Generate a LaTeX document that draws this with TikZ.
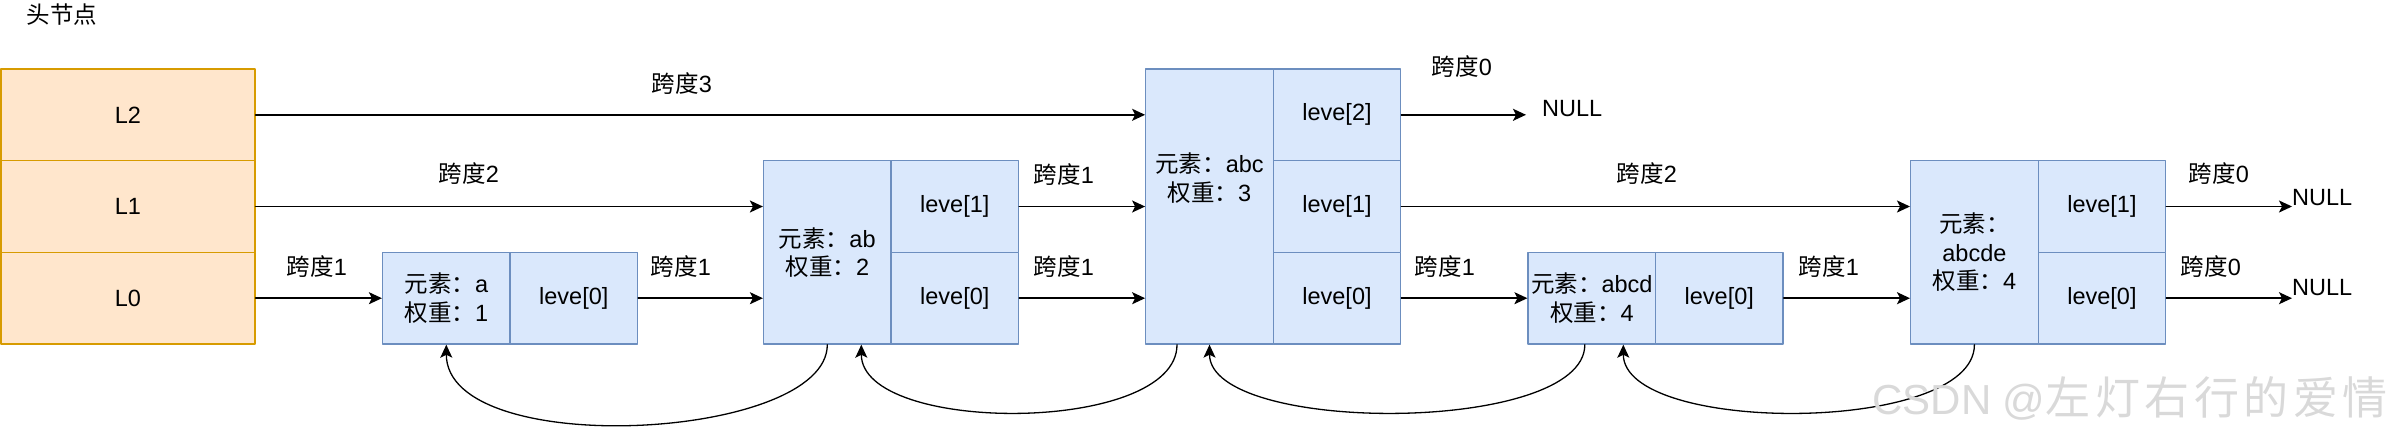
\documentclass[tikz,border=0pt]{standalone}
\usepackage{fontspec}
\setmainfont{Liberation Sans}
\newfontfamily\cjk{Noto Sans CJK SC}
\newfontfamily\cjkmark[LetterSpace=10]{Noto Sans CJK SC}
\usetikzlibrary{arrows.meta}
\newcommand\zh[1]{{\cjk #1}}
\definecolor{headfill}{HTML}{FFE6CC}
\definecolor{headline}{HTML}{D79B00}
\definecolor{nodefill}{HTML}{DAE8FC}
\definecolor{nodeline}{HTML}{6C8EBF}
\begin{document}
\begin{tikzpicture}[x=1pt, y=-1pt, font=\fontsize{23.5}{28.5}\selectfont, line join=round, line cap=round,
	>={Stealth[length=13pt,width=12pt,inset=3pt]},
	headcell/.style={draw=headline, fill=headfill, line width=1.3pt, minimum width=254pt, minimum height=91.7pt, inner sep=0pt},
	elemcell/.style={draw=nodeline, fill=nodefill, line width=1.3pt, minimum width=127.5pt, minimum height=#1, inner sep=0pt, align=center},
	elemcell/.default=91.7pt,
	levcell/.style={draw=nodeline, fill=nodefill, line width=1.3pt, minimum width=127.5pt, minimum height=91.7pt, inner sep=0pt},
	link/.style={->, line width=1.5pt},
	backlink/.style={->, line width=1.3pt},
	spanlabel/.style={inner sep=0pt},
	nulltext/.style={anchor=west, inner sep=0pt}]
	\def\yii{114.8} \def\yi{206.5} \def\yo{298.2} % Tâm các hàng
	\useasboundingbox (0,0) rectangle (2387,437);
	% nút đầu
	\node[spanlabel] (head) at (62,15) {\zh{头节点}};
	\node[headcell] (L2) at (128,\yii) {L2};
	\node[headcell] (L1) at (128,\yi) {L1};
	\node[headcell] (L0) at (128,\yo) {L0};
	% các nút
	\node[elemcell] (ea) at (446.3,\yo) {\zh{元素：}a\\\zh{权重：}1};
	\node[levcell] (a0) at (573.8,\yo) {leve[0]};
	\node[elemcell=183.3pt] (eab) at (827.3,252.4) {\zh{元素：}ab\\\zh{权重：}2};
	\node[levcell] (ab1) at (954.8,\yi) {leve[1]};
	\node[levcell] (ab0) at (954.8,\yo) {leve[0]};
	\node[elemcell=275pt] (eabc) at (1209.5,\yi) {\zh{元素：}abc\\\zh{权重：}3\\[30pt]};
	\node[levcell] (abc2) at (1337,\yii) {leve[2]};
	\node[levcell] (abc1) at (1337,\yi) {leve[1]};
	\node[levcell] (abc0) at (1337,\yo) {leve[0]};
	\node[elemcell] (eabcd) at (1591.8,\yo) {\zh{元素：}abcd\\\zh{权重：}4};
	\node[levcell] (abcd0) at (1719.3,\yo) {leve[0]};
	\node[elemcell=183.3pt] (eabcde) at (1974.4,252.4) {\zh{元素：}\\abcde\\\zh{权重：}4};
	\node[levcell] (abcde1) at (2101.9,\yi) {leve[1]};
	\node[levcell] (abcde0) at (2101.9,\yo) {leve[0]};
	\node[nulltext, inner xsep=16pt] (nulA) at (1526,109) {NULL};
	\node[nulltext] (nulB) at (2292,198) {NULL};
	\node[nulltext] (nulC) at (2292,288) {NULL};
	% con trỏ tiến
	\draw[link] (L2.east) -- (L2.east -| eabc.west);
	\draw[link] (L1.east) -- (L1.east -| eab.west);
	\draw[link] (L0.east) -- (ea.west);
	\draw[link] (a0.east) -- (a0.east -| eab.west);
	\draw[link] (ab1.east) -- (ab1.east -| eabc.west);
	\draw[link] (ab0.east) -- (ab0.east -| eabc.west);
	\draw[link] (abc2.east) -- (abc2.east -| nulA.west);
	\draw[link] (abc1.east) -- (abc1.east -| eabcde.west);
	\draw[link] (abc0.east) -- (eabcd.west);
	\draw[link] (abcd0.east) -- (abcd0.east -| eabcde.west);
	\draw[link] (abcde1.east) -- (abcde1.east -| nulB.west);
	\draw[link] (abcde0.east) -- (abcde0.east -| nulC.west);
	% nhãn
	\node[spanlabel] (s3) at (682,84) {\zh{跨度}3};
	\node[spanlabel] (s2a) at (469,174) {\zh{跨度}2};
	\node[spanlabel] (s1a) at (317,267) {\zh{跨度}1};
	\node[spanlabel] (s1b) at (681,267) {\zh{跨度}1};
	\node[spanlabel] (s1c) at (1064,175) {\zh{跨度}1};
	\node[spanlabel] (s1d) at (1064,267) {\zh{跨度}1};
	\node[spanlabel] (s0a) at (1462,67) {\zh{跨度}0};
	\node[spanlabel] (s1e) at (1445,267) {\zh{跨度}1};
	\node[spanlabel] (s2b) at (1647,174) {\zh{跨度}2};
	\node[spanlabel] (s1f) at (1829,267) {\zh{跨度}1};
	\node[spanlabel] (s0b) at (2219,174) {\zh{跨度}0};
	\node[spanlabel] (s0c) at (2211,267) {\zh{跨度}0};
	% con trỏ lùi
	\draw[backlink] (eab.south) .. controls +(0,96) and +(0,116) .. (ea.south);
	\draw[backlink] ([xshift=-32.5pt]eabc.south) .. controls +(0,90) and +(0,90) .. ([xshift=34pt]eab.south);
	\draw[backlink] ([xshift=-7pt]eabcd.south) .. controls +(0,90) and +(0,90) .. (eabc.south);
	\draw[backlink] (eabcde.south) .. controls +(0,90) and +(0,90) .. ([xshift=31.5pt]eabcd.south);
	\node[text=gray!30, font=\fontsize{42}{42}\selectfont, inner sep=0pt] (mark) at (2130,398) {CSDN @{\cjkmark\fontsize{45}{45}\selectfont 左灯右行的爱情}};
\end{tikzpicture}
\end{document}
